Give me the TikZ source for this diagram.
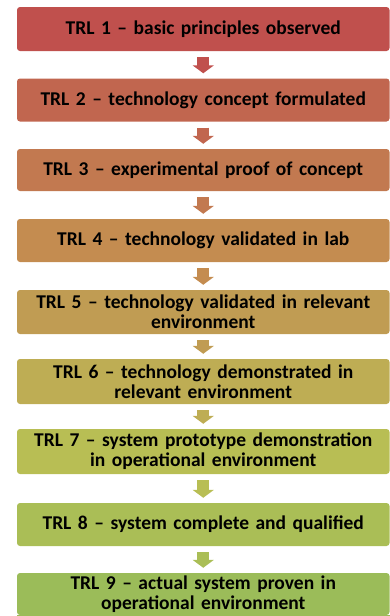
\documentclass[tikz,border=0pt]{standalone}
\usepackage{fontspec}
\setmainfont{Carlito}
\usetikzlibrary{arrows.meta}
% level colours, red through orange to green
\definecolor{c1}{RGB}{192,80,77}
\definecolor{c2}{RGB}{193,102,79}
\definecolor{c3}{RGB}{194,121,80}
\definecolor{c4}{RGB}{196,140,80}
\definecolor{c5}{RGB}{192,156,83}
\definecolor{c6}{RGB}{190,173,84}
\definecolor{c7}{RGB}{184,190,84}
\definecolor{c8}{RGB}{170,190,86}
\definecolor{c9}{RGB}{155,188,89}
\newcommand{\levelfont}{\bfseries\fontsize{19.5}{20}\selectfont\spaceskip=0.34em\relax}
\tikzset{
  level/.style={rectangle, rounded corners=3pt, draw=none, minimum width=372.5pt,
    text width=368pt, align=center, inner sep=0pt,
    font=\levelfont, text=black},
  blockarrow/.style={draw=#1, line width=12pt, line cap=butt,
    -{Triangle[width=21pt,length=8pt,fill=#1,color=#1]},
    shorten <=6pt, shorten >=5pt}
}
\begin{document}
\begin{tikzpicture}[x=1pt,y=-1pt]
\clip (0,0) rectangle (390,616);
\useasboundingbox (0,0) rectangle (390,616);
\node[level, fill=c1, minimum height=44pt] (b1) at (203.25,29) {TRL 1 -- basic principles observed};
\node[level, fill=c2, minimum height=43pt] (b2) at (203.25,100) {TRL 2 -- technology concept formulated};
\node[level, fill=c3, minimum height=42pt] (b3) at (203.25,170) {TRL 3 -- experimental proof of concept};
\node[level, fill=c4, minimum height=43pt] (b4) at (203.25,240.5) {TRL 4 -- technology validated in lab};
\node[level, fill=c5, minimum height=44pt] (b5) at (203.25,312) {TRL 5 -- technology validated in relevant\\environment};
\node[level, fill=c6, minimum height=45pt] (b6) at (203.25,381.5) {TRL 6 -- technology demonstrated in\\relevant environment};
\node[level, fill=c7, minimum height=45pt] (b7) at (203.25,451.5) {TRL 7 -- system prototype demonstration\\in operational environment};
\node[level, fill=c8, minimum height=43pt] (b8) at (203.25,524.5) {TRL 8 -- system complete and qualified};
\node[level, fill=c9, minimum height=42pt] (b9) at (203.25,594) {TRL 9 -- actual system proven in\\operational environment};
\fill[c9] (b9.south west) rectangle ([yshift=-10pt]b9.south east);
\draw[blockarrow=c1] (b1) -- (b2);
\draw[blockarrow=c2] (b2) -- (b3);
\draw[blockarrow=c3] (b3) -- (b4);
\draw[blockarrow=c4] (b4) -- (b5);
\draw[blockarrow=c5] (b5) -- (b6);
\draw[blockarrow=c6] (b6) -- (b7);
\draw[blockarrow=c7] (b7) -- (b8);
\draw[blockarrow=c8] (b8) -- (b9);
\end{tikzpicture}
\end{document}
